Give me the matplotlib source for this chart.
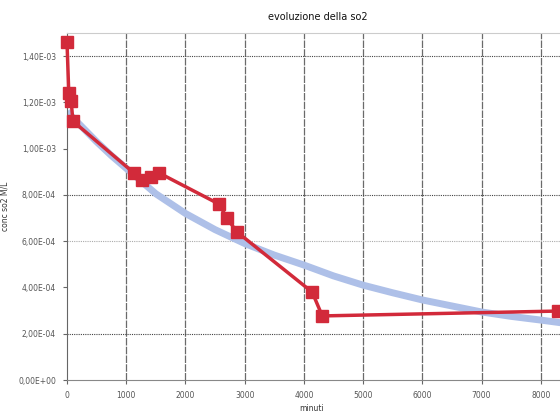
import matplotlib.pyplot as plt
import numpy as np

# measured so2 concentration (red series)
time_min = [0, 30, 70, 100, 1130, 1265, 1420, 1555, 2570, 2700, 2870, 4140, 4310, 8290]
conc = [1.461e-3, 1.240e-3, 1.206e-3, 1.119e-3, 8.95e-4, 8.64e-4, 8.77e-4, 8.95e-4,
        7.60e-4, 7.00e-4, 6.40e-4, 3.80e-4, 2.77e-4, 2.98e-4]

# trend curve (blue)
trend_t = [0, 250, 500, 750, 1000, 1500, 2000, 2500, 3000, 3500, 4000, 4500, 5000,
           5500, 6000, 6500, 7000, 7500, 8000, 8500, 9000]
trend_c = [1.16e-3, 1.095e-3, 1.03e-3, 9.7e-4, 9.15e-4, 8.05e-4, 7.2e-4, 6.5e-4,
           5.9e-4, 5.4e-4, 4.97e-4, 4.5e-4, 4.1e-4, 3.77e-4, 3.46e-4, 3.2e-4,
           2.94e-4, 2.75e-4, 2.59e-4, 2.42e-4, 2.28e-4]

x_ticks = [0, 1000, 2000, 3000, 4000, 5000, 6000, 7000, 8000]
y_ticks = [0, 2e-4, 4e-4, 6e-4, 8e-4, 1.0e-3, 1.2e-3, 1.4e-3]
y_grid_shown = [2e-4, 6e-4, 8e-4, 1.4e-3]


def excel_sci(v):
    s = "%.2E" % v
    return s.replace(".", ",")


fig = plt.figure(figsize=(5.6, 4.11), dpi=100)
ax = fig.add_axes([67 / 560, 31 / 411, 533 / 560, 347 / 411])

ax.set_xlim(0, 9000)
ax.set_ylim(0, 1.5e-3)

for x in x_ticks[1:]:
    ax.axvline(x, color="#6a6a6a", lw=0.9, ls=(0, (6, 1)), zorder=1)
for y in y_grid_shown:
    c = "#aaaaaa" if y == 6e-4 else "#444444"
    ax.axhline(y, color=c, lw=0.8, ls=(0, (1, 1)), zorder=1)

ax.plot(trend_t, trend_c, color="#aec0e8", lw=5, solid_capstyle="butt",
        solid_joinstyle="round", zorder=2)
ax.plot(time_min, conc, color="#d22a3a", lw=2.5, marker="s", markersize=9,
        markeredgecolor="#d22a3a", zorder=3, clip_on=False)

ax.set_xticks(x_ticks)
ax.set_xticklabels([str(t) for t in x_ticks], fontsize=5.5, color="#555555")
ax.set_yticks(y_ticks)
ax.set_yticklabels([excel_sci(v) for v in y_ticks], fontsize=5.5, color="#555555")
ax.tick_params(axis="both", length=3, width=0.8, color="#666666", pad=5)

ax.spines["top"].set_color("#cccccc")
ax.spines["left"].set_color("#666666")
ax.spines["bottom"].set_color("#888888")
ax.spines["right"].set_visible(False)

ax.set_ylabel("conc so2 M/L", fontsize=5.5, color="#333333", labelpad=6)
fig.text(318 / 560, 1 - 17 / 411, "evoluzione della so2", ha="center", va="center",
         fontsize=7, color="#111111", fontweight="medium")
fig.text(312 / 560, 1 - 408 / 411, "minuti", ha="center", va="center",
         fontsize=5.5, color="#333333")

fig.savefig("out.png", dpi=100)
